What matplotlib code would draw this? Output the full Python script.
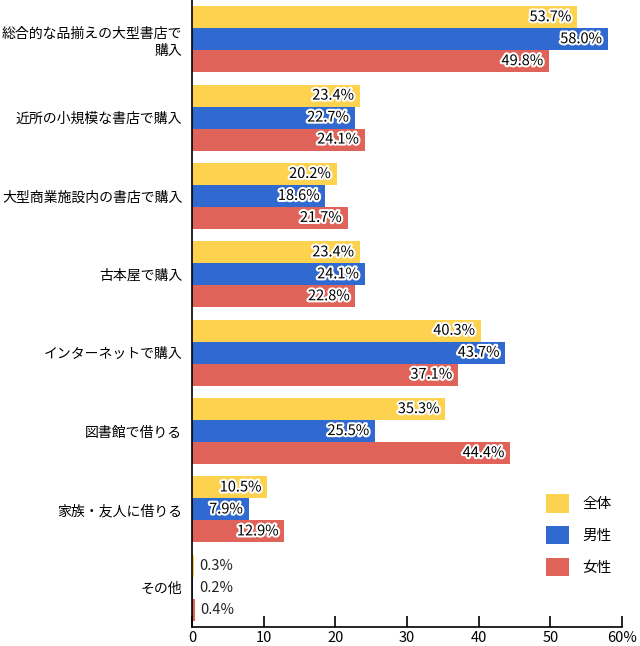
import matplotlib
matplotlib.use("Agg")
import matplotlib.pyplot as plt
import matplotlib.patheffects as pe
from matplotlib.patches import Patch
import numpy as np

plt.rcParams['font.family'] = ['Noto Sans CJK JP', 'DejaVu Sans']

categories = ["総合的な品揃えの大型書店で\n購入", "近所の小規模な書店で購入", "大型商業施設内の書店で購入",
              "古本屋で購入", "インターネットで購入", "図書館で借りる", "家族・友人に借りる", "その他"]
series_names = ["全体", "男性", "女性"]
total = [53.7, 23.4, 20.2, 23.4, 40.3, 35.3, 10.5, 0.3]
male = [58.0, 22.7, 18.6, 24.1, 43.7, 25.5, 7.9, 0.2]
female = [49.8, 24.1, 21.7, 22.8, 37.1, 44.4, 12.9, 0.4]
colors = ["#FDD24F", "#3069D0", "#E0635A"]
xticks = [0, 10, 20, 30, 40, 50, 60]
xticklabels = ["0", "10", "20", "30", "40", "50", "60%"]

fig = plt.figure(figsize=(6.4, 6.46), dpi=100)
ax = fig.add_axes([192/640, 1-627/646, 430/640, 627/646])

n = len(categories)
bh = 22/78.5
y = np.arange(n)
for i, (vals, c) in enumerate(zip([total, male, female], colors)):
    ypos = y + (i - 1) * bh
    ax.barh(ypos, vals, height=bh, color=c, edgecolor='none')
    for yy, v in zip(ypos, vals):
        if v >= 5:
            ax.annotate(f"{v:.1f}%", (v, yy), xytext=(-4, 0), textcoords='offset points',
                        ha='right', va='center', fontsize=10.5, color='black',
                        path_effects=[pe.withStroke(linewidth=3, foreground='white')])
        else:
            ax.annotate(f"{v:.1f}%", (v, yy), xytext=(4, 0), textcoords='offset points',
                        ha='left', va='center', fontsize=10.5, color='#222222')

ax.set_ylim(n - 0.5, -0.5)
ax.set_xlim(0, 60)
ax.set_yticks(y)
ax.set_yticklabels(categories, fontsize=10, ha='right', linespacing=1.3)
ax.tick_params(axis='y', length=0, pad=7)
ax.set_xticks(xticks)
ax.set_xticklabels(xticklabels, fontsize=10.5)
ax.tick_params(axis='x', direction='in', length=8, width=1.2, pad=3)
for s in ['top', 'right']:
    ax.spines[s].set_visible(False)
ax.spines['left'].set_linewidth(1.2)
ax.spines['bottom'].set_linewidth(1.2)

handles = [Patch(facecolor=c, edgecolor='none') for c in colors]
fig.legend(handles, series_names, loc='upper left', bbox_to_anchor=(540/640, 1-488/646),
           frameon=False, fontsize=10.5, handlelength=1.6, handleheight=1.6,
           labelspacing=0.9, handletextpad=0.9, borderaxespad=0)

fig.savefig("out.png", dpi=100)
